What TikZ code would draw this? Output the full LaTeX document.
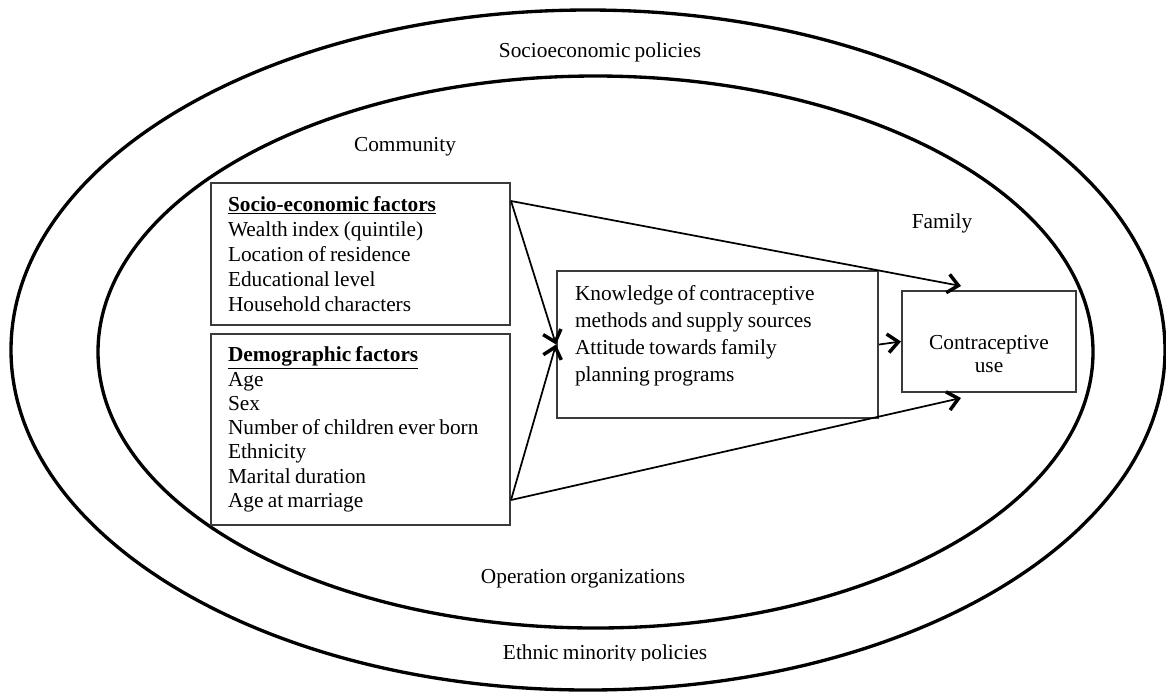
\documentclass[tikz,border=0pt]{standalone}
\usepackage{fontspec}
\setmainfont{Liberation Serif}[WordSpace=0.8]
\usetikzlibrary{arrows.meta}
\definecolor{boxgray}{HTML}{3A3A3A}
\newcommand{\tightsp}{\spaceskip=0.2em plus 0.05em\relax}
\tikzset{
  ring/.style={line width=2.5pt, black},
  box/.style={draw=boxgray, line width=1.5pt, rectangle, inner ysep=0pt},
  conn/.style={line width=1.3pt, black, -{Straight Barb[length=8pt,width=14pt,line width=2.6pt]}},
  lbl/.style={inner sep=0pt, font=\fontsize{16pt}{19pt}\selectfont}
}
\begin{document}
\begin{tikzpicture}[x=0.75pt,y=-0.75pt]
\useasboundingbox (0,0) rectangle (1166,694);
% rings
\draw[ring] (588,350) ellipse [x radius=432.75pt, y radius=255pt];
\draw[ring] (595.5,352) ellipse [x radius=373.125pt, y radius=207pt];
% ring labels
\node[lbl] (socpol) at (600,52) {Socioeconomic policies};
\node[lbl] (comm) at (405,147) {Community};
\node[lbl] (fam) at (942,223) {Family};
\node[lbl] (oporg) at (583,579) {Operation organizations};
\begin{scope}
\clip (400,630) rectangle (800,660.5);
\node[lbl] (ethpol) at (605,654) {Ethnic minority policies};
\end{scope}
% boxes
\node[box, minimum width=224.25pt, minimum height=106.5pt, inner xsep=12.75pt,
      text width=198.75pt, align=left,
      font=\fontsize{16pt}{18.75pt}\selectfont] (socio) at (360.5,254)
  {\tightsp\underline{\textbf{Socio-economic factors}}\\
   Wealth index (quintile)\\
   Location of residence\\
   Educational level\\
   Household characters};
\node[box, minimum width=224.25pt, minimum height=143.25pt, inner xsep=12.75pt,
      text width=198.75pt, align=left,
      font=\fontsize{16pt}{18.2pt}\selectfont] (demo) at (360.5,429.5)
  {\tightsp\underline{\textbf{Demographic factors}}\\
   Age\\
   Sex\\
   Number of children ever born\\
   Ethnicity\\
   Marital duration\\
   Age at marriage};
\node[box, minimum width=240.75pt, minimum height=110.25pt, inner xsep=13.5pt,
      text width=213.75pt, align=left,
      font=\fontsize{16pt}{20.25pt}\selectfont] (mid) at (717.5,344.5)
  {\tightsp Knowledge of contraceptive\\
   methods and supply sources\\
   Attitude towards family\\
   planning programs\rule[-17pt]{0pt}{0pt}};
\node[box, minimum width=130.5pt, minimum height=75.75pt, align=center,
      font=\fontsize{16pt}{17.25pt}\selectfont] (cu) at (989,341.5)
  {\rule{0pt}{29pt}Contraceptive\\ use};
% connectors
\draw[conn] ([yshift=-14.25pt]socio.north east) -- ([xshift=45pt,yshift=3pt]cu.north west);
\draw[conn] ([yshift=19.5pt]demo.south east) -- ([xshift=45pt,yshift=-3.75pt]cu.south west);
\draw[conn] ([yshift=-14.25pt]socio.north east) -- (mid.west);
\draw[conn] ([yshift=19.5pt]demo.south east) -- (mid.west);
\draw[conn] (mid.east) -- (cu.west);
\end{tikzpicture}
\end{document}
